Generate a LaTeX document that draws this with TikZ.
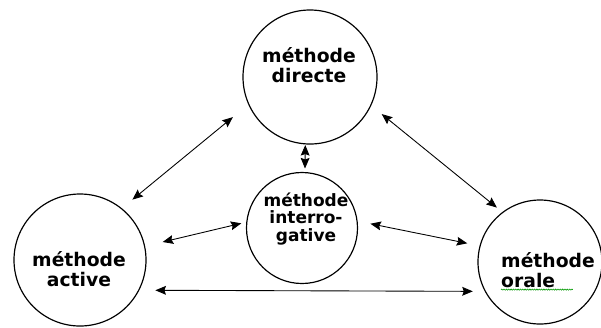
\documentclass[tikz,border=0pt]{standalone}
\usepackage{fontspec}
\setmainfont{DejaVu Sans}
\usetikzlibrary{arrows.meta, decorations.pathmorphing}

\begin{document}
\begin{tikzpicture}[x=0.03cm, y=-0.03cm,
    methode/.style={draw, circle, line width=1pt, inner sep=0pt},
    methode txt/.style={align=center, inner sep=0pt, font=\fontsize{16}{17}\selectfont\bfseries},
    link/.style={{Stealth[length=9pt,width=7.5pt,inset=1.3pt]}-{Stealth[length=9pt,width=7.5pt,inset=1.3pt]}, line width=0.75pt},
    spell/.style={draw=green!60!black, line width=0.5pt, decorate, decoration={snake, amplitude=0.5pt, segment length=2pt}}]
    \useasboundingbox (0,0) rectangle (601,327);
    \node [methode, minimum size=4.02cm] (dir) at (310,77) {};
    \node [methode, minimum size=3.96cm] (act) at (80,260) {};
    \node [methode, minimum size=3.72cm] (ori) at (540,262) {};
    \node [methode, minimum size=3.33cm] (int) at (302,228) {};
    \node [methode txt] (dirtxt) at (309,65.5) {méthode\\directe};
    \node [methode txt] (acttxt) at (79,269.5) {méthode\\active};
    \node [methode txt, align=left] (oritxt) at (548,270) {méthode\\orale};
    \node [methode txt, font=\fontsize{14.5}{15}\selectfont\bfseries] (inttxt) at (306,219) {méthode\\interro-\\gative};
    \draw [spell] ([yshift=-1.5pt]oritxt.south west) -- ++(72,0);
    \draw [link, shorten <=11.6pt, shorten >=17pt] (act.51) -- (dir.204);
    \draw [link, shorten <=11.5pt, shorten >=6pt] (dir.335) -- (ori.127);
    \draw [link, shorten <=0.5pt, shorten >=3pt] (dir.266) -- (int.87);
    \draw [link, shorten <=15.4pt, shorten >=4.3pt] (act.12) -- (int.174);
    \draw [link, shorten <=11.1pt, shorten >=10.7pt] (int.7) -- (ori.165);
    \draw [link, shorten <=13.7pt, shorten >=10.2pt] (act.333) -- (ori.208);
\end{tikzpicture}
\end{document}
